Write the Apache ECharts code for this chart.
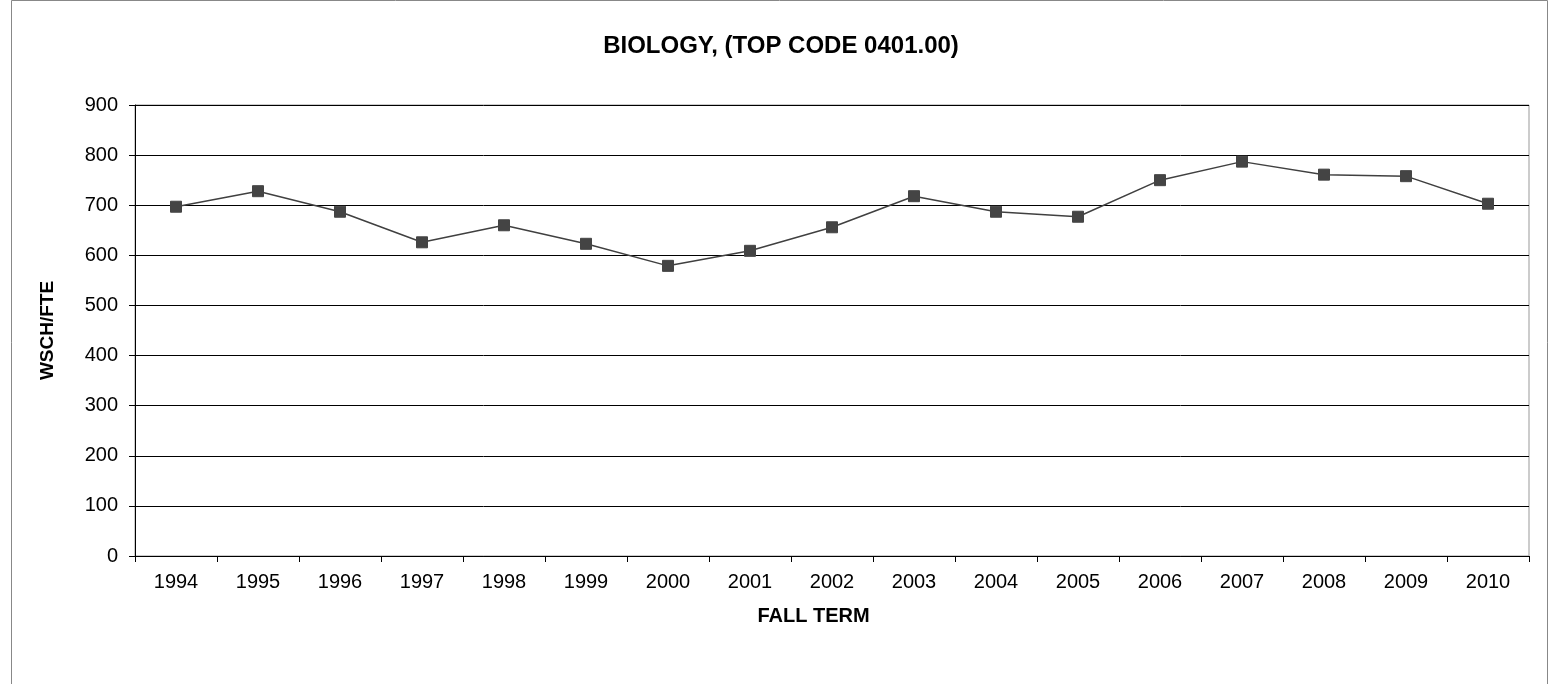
<!DOCTYPE html>
<html>
<head>
<meta charset="utf-8">
<script src="https://cdn.jsdelivr.net/npm/echarts@6/dist/echarts.min.js"></script>
<style>
  html, body { margin: 0; padding: 0; background: #fff; }
  #chart { width: 1560px; height: 684px; }
</style>
</head>
<body>
<div id="chart"></div>
<script>
// fall terms and WSCH/FTE values
const years = ['1994', '1995', '1996', '1997', '1998', '1999', '2000', '2001', '2002',
  '2003', '2004', '2005', '2006', '2007', '2008', '2009', '2010']
const wschFte = [697, 728, 687, 626, 660, 623, 579, 609, 656, 718, 687, 677, 750, 787, 761, 758, 703]
const yTicks = { min: 0, max: 900, interval: 100 }

const chart = echarts.init(document.getElementById('chart'))
const font = 'Liberation Sans, Arial, sans-serif'

chart.setOption({
  animation: false,
  title: {
    text: 'BIOLOGY, (TOP CODE 0401.00)',
    left: 776,
    top: 29,
    textAlign: 'center',
    textStyle: { fontFamily: font, fontSize: 24, fontWeight: 'bold', color: '#000' }
  },
  graphic: [{
    type: 'rect',
    shape: { x: 11.5, y: 0.5, width: 1536, height: 690 },
    style: { fill: 'none', stroke: '#888', lineWidth: 1 },
    silent: true
  }],
  grid: {
    left: 135,
    top: 105,
    width: 1394,
    height: 451,
    show: true,
    borderColor: '#999',
    borderWidth: 1
  },
  xAxis: {
    type: 'category',
    data: years,
    boundaryGap: true,
    name: 'FALL TERM',
    nameLocation: 'middle',
    nameGap: 50,
    nameTextStyle: { fontFamily: font, fontSize: 20, fontWeight: 'bold', color: '#000', padding: [0, 37, 0, 0] },
    axisLine: { lineStyle: { color: '#000', width: 1 } },
    axisTick: { show: true, length: 6, lineStyle: { color: '#000' } },
    axisLabel: { fontFamily: font, fontSize: 20, color: '#000', margin: 16 }
  },
  yAxis: {
    type: 'value',
    min: yTicks.min,
    max: yTicks.max,
    interval: yTicks.interval,
    name: 'WSCH/FTE',
    nameLocation: 'middle',
    nameGap: 78,
    nameTextStyle: { fontFamily: font, fontSize: 19, fontWeight: 'bold', color: '#000' },
    axisLine: { show: true, lineStyle: { color: '#000', width: 1 } },
    axisTick: { show: true, length: 6, lineStyle: { color: '#000' } },
    axisLabel: { fontFamily: font, fontSize: 20, color: '#000', margin: 17 },
    splitLine: { show: true, lineStyle: { color: '#000', width: 1 } }
  },
  series: [{
    name: 'WSCH/FTE',
    type: 'line',
    data: wschFte,
    symbol: 'rect',
    symbolSize: 11,
    lineStyle: { color: '#404040', width: 1.5 },
    itemStyle: { color: '#444', borderColor: '#444' }
  }]
})
</script>
</body>
</html>
